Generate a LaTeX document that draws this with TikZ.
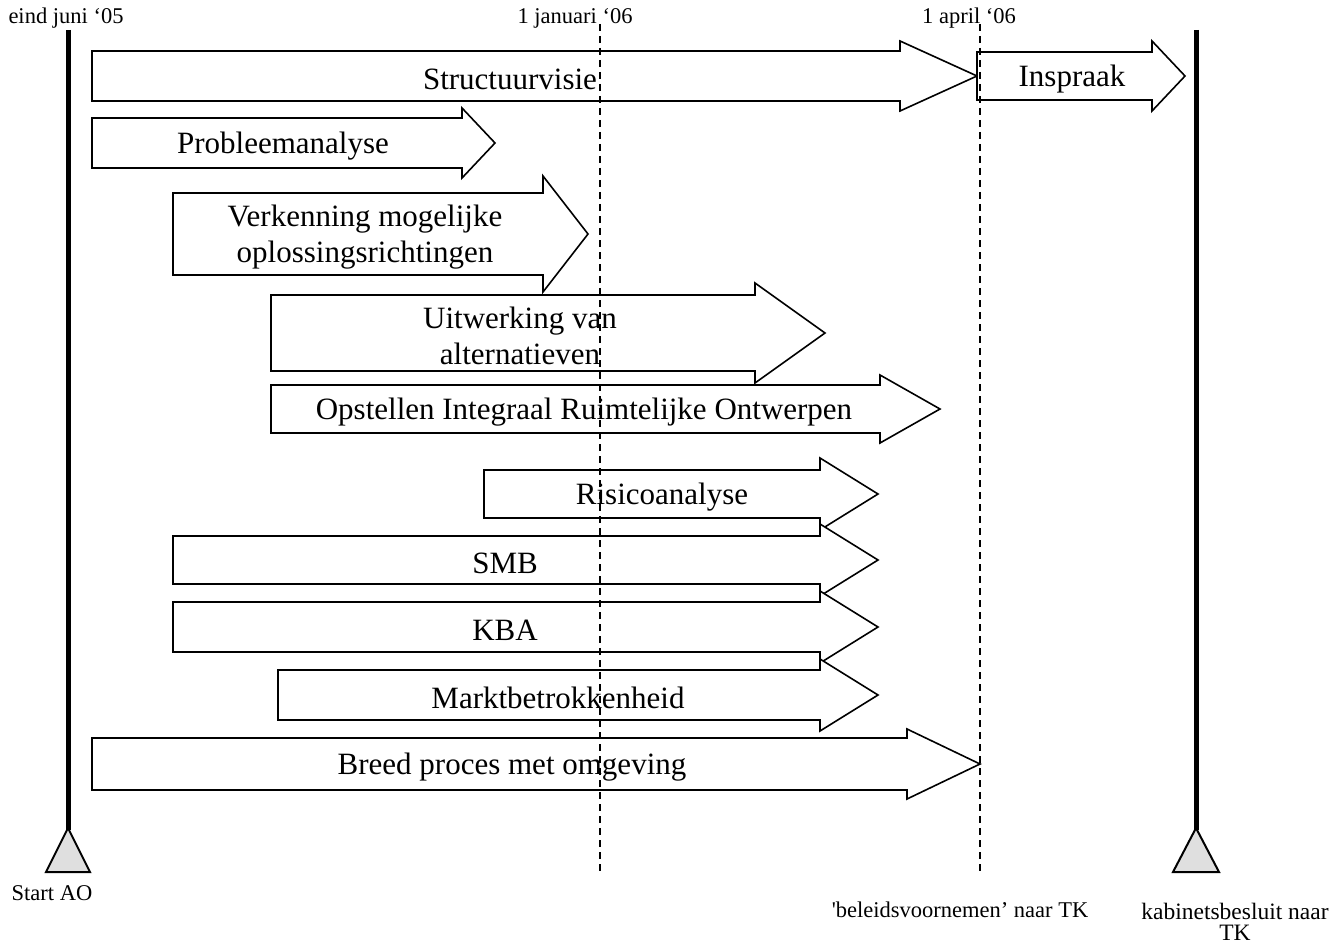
\documentclass[tikz,border=0pt]{standalone}
\usepackage{fontspec}
\setmainfont{Liberation Serif}
\tikzset{
  phase/.style={draw=black, fill=white, line width=1.6pt, line join=miter},
  lbl/.style={font=\fontsize{31}{36}\selectfont, align=center, inner sep=0pt},
  small/.style={font=\fontsize{22.5}{22}\selectfont, align=center, inner sep=0pt},
  milestone/.style={line width=2pt, dash pattern=on 7pt off 5pt},
  timeline/.style={line width=5pt},
  marker/.style={draw=black, fill=gray!25, line width=2pt, line join=miter}
}
% #1 name, #2 x start, #3 x head base, #4 x tip, #5 y centre, #6 half body, #7 half head, #8 label x, #9 label
\newcommand\phasearrow[9]{%
  \draw[phase] ({#2},{#5-#6}) -- ({#3},{#5-#6}) -- ({#3},{#5-#7}) -- ({#4},{#5})
    -- ({#3},{#5+#7}) -- ({#3},{#5+#6}) -- ({#2},{#5+#6}) -- cycle;
  \node[lbl] (#1) at ({#8},{#5+3}) {#9};%
}
\begin{document}
\begin{tikzpicture}[x=1pt,y=-1pt]
\useasboundingbox (0,0) rectangle (1343,944);

\phasearrow{structuur}{92}{900}{977}{76}{25}{35}{510}{Structuurvisie}
\phasearrow{inspraak}{977}{1152}{1185}{76}{24}{35}{1072}{Inspraak}
\phasearrow{probleem}{92}{462}{495}{143}{25}{35}{283}{Probleemanalyse}
\phasearrow{verkenning}{173}{543}{588}{234}{41}{58}{365}{Verkenning mogelijke\\oplossingsrichtingen}
\phasearrow{uitwerking}{271}{755}{825}{333}{38}{50}{520}{Uitwerking van\\alternatieven}
\phasearrow{opstellen}{271}{880}{940}{409}{24}{34}{584}{Opstellen Integraal Ruimtelijke Ontwerpen}
\phasearrow{risico}{484}{820}{878}{494}{24}{36}{662}{Risicoanalyse}
\phasearrow{smb}{173}{820}{878}{560}{24}{36}{505}{SMB}
\phasearrow{kba}{173}{820}{878}{627}{25}{36}{505}{KBA}
\phasearrow{markt}{278}{820}{878}{695}{25}{36}{558}{Marktbetrokkenheid}
\phasearrow{breed}{92}{907}{980}{764}{26}{35}{512}{Breed proces met omgeving}

% milestone dates
\node[small] (jun) at (66,18) {eind juni ‘05};
\node[small] (jan) at (575,18) {1 januari ‘06};
\node[small] (apr) at (969,18) {1 april ‘06};
\coordinate (janT) at (600,24);
\coordinate (janB) at (600,872);
\coordinate (aprT) at (980,24);
\coordinate (aprB) at (980,872);
\draw[milestone] (janT) -- (janB);
\draw[milestone] (aprT) -- (aprB);

% timelines with start/end markers
\coordinate (startT) at (68,30);
\coordinate (startB) at (68,830);
\coordinate (endT) at (1196,30);
\coordinate (endB) at (1196,830);
\draw[timeline] (startT) -- (startB);
\draw[timeline] (endT) -- (endB);
\draw[marker] (68,828) -- (90,872) -- (46,872) -- cycle;
\draw[marker] (1196,828) -- (1219,872) -- (1173,872) -- cycle;

\node[small] (startao) at (52,893) {Start AO};
\node[small] (beleid) at (960,910) {\textquotesingle beleidsvoornemen’ naar TK};
\node[small, font=\fontsize{23.5}{21}\selectfont] (kabinet) at (1235,922) {kabinetsbesluit naar\\TK};
\end{tikzpicture}
\end{document}
